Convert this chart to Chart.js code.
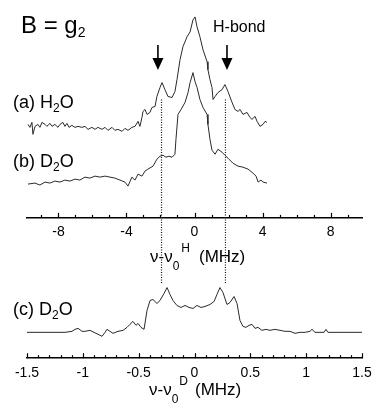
<!DOCTYPE html>
<html><head><meta charset="utf-8">
<script src="https://cdn.jsdelivr.net/npm/chart.js@4.4.1/dist/chart.umd.min.js"></script>
<style>html,body{margin:0;padding:0;background:#fff}#wrap{position:relative;width:373px;height:404px}</style>
</head><body><div id="wrap"><canvas id="c"></canvas></div>
<script>
// (a) H2O, frequency offset nu - nu0^H (MHz) and intensity (a.u.)
const freqH_a = [-9.79,-9.68,-9.56,-9.50,-9.38,-9.21,-9.09,-8.97,-8.79,-8.68,-8.50,-8.38,-8.21,-8.03,-7.91,-7.74,-7.62,-7.50,-7.38,-7.21,-7.03,-6.85,-6.62,-6.44,-6.26,-6.03,-5.85,-5.68,-5.44,-5.26,-5.09,-4.85,-4.68,-4.50,-4.26,-4.09,-3.91,-3.68,-3.50,-3.32,-3.21,-3.09,-3.03,-2.91,-2.79,-2.62,-2.50,-2.32,-2.21,-2.03,-1.91,-1.74,-1.56,-1.32,-1.15,-1.03,-0.85,-0.68,-0.44,-0.26,-0.09,0.03,0.15,0.32,0.50,0.74,0.79,0.91,1.03,1.09,1.21,1.38,1.62,1.79,1.97,2.21,2.38,2.56,2.68,2.85,3.09,3.26,3.38,3.56,3.68,3.85,4.03,4.15,4.26];
const intensityA = [0.5,0.2,0.7,-0.5,0.3,0.5,0.2,0.7,0.5,0.3,0.6,0.3,0.5,0.2,0.5,0.7,0.3,0.6,0.2,0.4,0.2,0.3,0.2,0.3,0.0,0.2,0.0,0.2,0.0,0.2,-0.1,0.2,-0.1,0.0,-0.2,0.1,-0.1,0.2,0.3,0.8,0.3,1.2,1.8,2.0,1.5,1.7,2.2,2.3,3.3,4.2,4.7,4.0,3.3,3.2,3.8,5.0,7.0,8.3,9.3,9.8,11.0,11.3,10.3,9.3,8.0,6.8,6.0,5.0,4.2,3.0,3.3,3.7,4.0,4.5,3.8,2.7,2.0,1.8,2.0,1.5,1.7,1.2,1.0,1.3,0.8,0.3,0.5,0.8,0.7];
// (b) D2O, nu - nu0^H (MHz)
const freqH_b = [-9.79,-9.38,-9.09,-8.79,-8.50,-8.21,-7.91,-7.62,-7.32,-7.03,-6.74,-6.44,-6.15,-5.85,-5.56,-5.26,-4.97,-4.68,-4.38,-4.09,-3.91,-3.68,-3.50,-3.32,-3.09,-2.91,-2.74,-2.44,-2.21,-2.03,-1.85,-1.68,-1.50,-1.32,-1.15,-1.09,-0.97,-0.79,-0.56,-0.38,-0.26,-0.09,0.03,0.15,0.32,0.50,0.74,0.79,0.91,1.03,1.21,1.38,1.62,1.79,1.97,2.26,2.56,2.85,3.15,3.44,3.62,3.74,3.91,4.03,4.26];
const intensityB = [0.0,0.1,-0.1,0.2,0.1,0.3,0.2,0.4,0.3,0.5,0.4,0.7,0.6,0.8,0.7,0.8,0.7,0.6,0.4,0.2,-0.2,0.7,0.4,1.0,0.8,1.3,1.5,1.8,2.5,2.8,2.9,2.7,2.8,2.7,3.0,4.5,7.0,7.5,8.2,9.2,10.2,11.2,10.3,9.7,8.5,7.7,7.0,6.0,4.5,3.4,3.0,3.5,3.2,2.9,2.6,2.1,1.8,1.7,1.5,1.1,0.8,0.2,0.4,0.2,0.1];
// (c) D2O, nu - nu0^D (MHz)
const freqD_c = [-1.500,-1.160,-1.097,-1.070,-1.043,-1.007,-0.981,-0.936,-0.900,-0.864,-0.828,-0.801,-0.784,-0.757,-0.730,-0.685,-0.640,-0.604,-0.578,-0.551,-0.524,-0.506,-0.479,-0.452,-0.425,-0.398,-0.372,-0.336,-0.309,-0.273,-0.246,-0.219,-0.193,-0.157,-0.121,-0.085,-0.049,-0.013,0.022,0.058,0.094,0.139,0.175,0.201,0.228,0.255,0.291,0.318,0.354,0.381,0.407,0.434,0.461,0.488,0.515,0.542,0.569,0.604,0.640,0.676,0.721,0.766,0.810,0.855,0.900,0.945,0.990,1.034,1.052,1.079,1.124,1.160,1.177,1.195,1.500];
const intensityC = [0,0,0.1,0.3,0.4,0.1,0.1,0.2,0,-0.2,-0.4,0,0.3,0.1,-0.1,0.1,0.2,0.5,0.8,1.1,0.7,0.9,0.5,0.3,2.2,3.2,3.3,2.9,3.2,3.9,4.5,3.8,3.2,2.7,2.5,2.7,2.5,2.4,2.7,2.5,2.6,2.8,3.1,3.8,4.5,4.0,2.8,3.0,3.6,2.9,1.2,0.6,0.5,0.7,0.8,0.4,0.5,0.2,0.3,0.2,0.3,0.2,0.1,0.1,-0.1,0,0,0.1,0.3,0,0,0,0.3,0,0];
// H-bond peak positions (MHz, nu - nu0^H) marked by arrows / dotted lines
const hbondLinesH = [-1.94, 1.82];
const arrowsH = [-2.15, 1.91];
// tick labels
const tickLabelsH = [-8, -4, 0, 4, 8];
const tickLabelsD = [-1.5, -1, -0.5, 0, 0.5, 1, 1.5];

// layout constants (vertical stacking in y-units)
const Y_MAX = 36, OFFSET_A = 23, OFFSET_B = 17.5, OFFSET_C = 2.6, AXIS_H_Y = 14.1;
const DOT_TOP = 26, DOT_BOTTOM = 7.5;
const FONT = '"Liberation Sans", Arial, Helvetica, sans-serif';
const LINE = '#2a2a2a';

function series(xs, ys, off) { return xs.map((x, i) => ({x: x, y: ys[i] + off})); }

function rich(ctx, x, y, parts) {
  let cx = x;
  parts.forEach(p => {
    ctx.font = p.size + 'px ' + FONT;
    cx += (p.pre || 0);
    ctx.fillText(p.t, cx, y + (p.dy || 0));
    cx += ctx.measureText(p.t).width;
  });
}

const decor = {
  id: 'decor',
  afterDraw(chart) {
    const ctx = chart.ctx;
    const xH = chart.scales.xH, xD = chart.scales.xD, y = chart.scales.y;
    ctx.save();
    ctx.strokeStyle = '#000';
    ctx.fillStyle = '#000';
    ctx.lineWidth = 1.2;
    function drawTicks(scale, axisY, majors) {
      scale.ticks.forEach(t => {
        const px = Math.round(scale.getPixelForValue(t.value)) + 0.5;
        const isMaj = majors.some(m => Math.abs(m - t.value) < 1e-6);
        ctx.beginPath(); ctx.moveTo(px, axisY); ctx.lineTo(px, axisY - (isMaj ? 5 : 3)); ctx.stroke();
      });
    }
    drawTicks(xH, y.getPixelForValue(AXIS_H_Y), tickLabelsH);
    drawTicks(xD, xD.top, tickLabelsD);
    // arrows
    arrowsH.forEach(v => {
      const px = xH.getPixelForValue(v);
      ctx.lineWidth = 1.6;
      ctx.beginPath(); ctx.moveTo(px, 45); ctx.lineTo(px, 60); ctx.stroke();
      ctx.beginPath(); ctx.moveTo(px - 5.5, 58); ctx.lineTo(px + 5.5, 58); ctx.lineTo(px, 70); ctx.closePath(); ctx.fill();
    });
    ctx.textBaseline = 'alphabetic';
    ctx.textAlign = 'left';
    rich(ctx, 21, 33, [{t: 'B = g', size: 24}, {t: '2', size: 14, dy: 4}]);
    rich(ctx, 213, 32, [{t: 'H-bond', size: 16}]);
    rich(ctx, 13, 108, [{t: '(a) H', size: 18}, {t: '2', size: 12, dy: 4}, {t: 'O', size: 18}]);
    rich(ctx, 13, 167, [{t: '(b) D', size: 18}, {t: '2', size: 12, dy: 4}, {t: 'O', size: 18}]);
    rich(ctx, 13, 315, [{t: '(c) D', size: 18}, {t: '2', size: 12, dy: 4}, {t: 'O', size: 18}]);
    rich(ctx, 150, 262, [{t: '\u03bd-\u03bd', size: 17}, {t: '0', size: 12, dy: 8}, {t: 'H', size: 12, dy: -10, pre: 2}, {t: '(MHz)', size: 17, pre: 9}]);
    rich(ctx, 149, 395, [{t: '\u03bd-\u03bd', size: 17}, {t: '0', size: 12, dy: 8}, {t: 'D', size: 12, dy: -10, pre: 1}, {t: '(MHz)', size: 17, pre: 7}]);
    ctx.restore();
  }
};

const traceStyle = {showLine: true, borderColor: LINE, borderWidth: 1, pointRadius: 0, tension: 0, fill: false};
const dotStyle = {showLine: true, borderColor: '#111', borderWidth: 1.2, borderDash: [1, 1.5], pointRadius: 0, fill: false};
const hiddenTickGrid = len => ({display: true, drawOnChartArea: false, drawTicks: true, tickLength: len, tickColor: 'rgba(0,0,0,0)'});

new Chart(document.getElementById('c'), {
  type: 'scatter',
  data: {
    datasets: [
      Object.assign({label: '(a) H2O', xAxisID: 'xH', yAxisID: 'y', data: series(freqH_a, intensityA, OFFSET_A)}, traceStyle),
      Object.assign({label: '(b) D2O', xAxisID: 'xH', yAxisID: 'y', data: series(freqH_b, intensityB, OFFSET_B)}, traceStyle),
      Object.assign({label: '(c) D2O', xAxisID: 'xD', yAxisID: 'y', data: series(freqD_c, intensityC, OFFSET_C)}, traceStyle),
      Object.assign({label: 'H-bond 1', xAxisID: 'xH', yAxisID: 'y', data: [{x: hbondLinesH[0], y: DOT_TOP}, {x: hbondLinesH[0], y: DOT_BOTTOM}]}, dotStyle),
      Object.assign({label: 'H-bond 2', xAxisID: 'xH', yAxisID: 'y', data: [{x: hbondLinesH[1], y: DOT_TOP}, {x: hbondLinesH[1], y: DOT_BOTTOM}]}, dotStyle)
    ]
  },
  options: {
    responsive: true, maintainAspectRatio: false, animation: false,
    layout: {padding: {left: 27, right: 11, top: 0, bottom: 21}},
    plugins: {legend: {display: false}, tooltip: {enabled: false}},
    scales: {
      y: {type: 'linear', min: 0, max: Y_MAX, display: false},
      xH: {
        type: 'linear', axis: 'x', position: {y: AXIS_H_Y}, min: -9.85, max: 9.85,
        grid: hiddenTickGrid(5),
        border: {display: true, color: '#000', width: 1.5},
        ticks: {stepSize: 1, autoSkip: false, maxRotation: 0, includeBounds: false, padding: 1, color: '#000',
          font: {size: 14, family: FONT},
          callback: v => tickLabelsH.includes(v) ? String(v) : ''}
      },
      xD: {
        type: 'linear', axis: 'x', position: 'bottom', min: -1.5, max: 1.5,
        grid: hiddenTickGrid(6),
        border: {display: true, color: '#000', width: 1.5},
        ticks: {stepSize: 0.1, autoSkip: false, maxRotation: 0, includeBounds: false, padding: 1, color: '#000',
          font: {size: 14, family: FONT},
          callback: v => { const r = Math.round(v * 10) / 10; return tickLabelsD.some(m => Math.abs(m - r) < 1e-9) ? String(r) : ''; }}
      }
    }
  },
  plugins: [decor]
});
</script></body></html>
